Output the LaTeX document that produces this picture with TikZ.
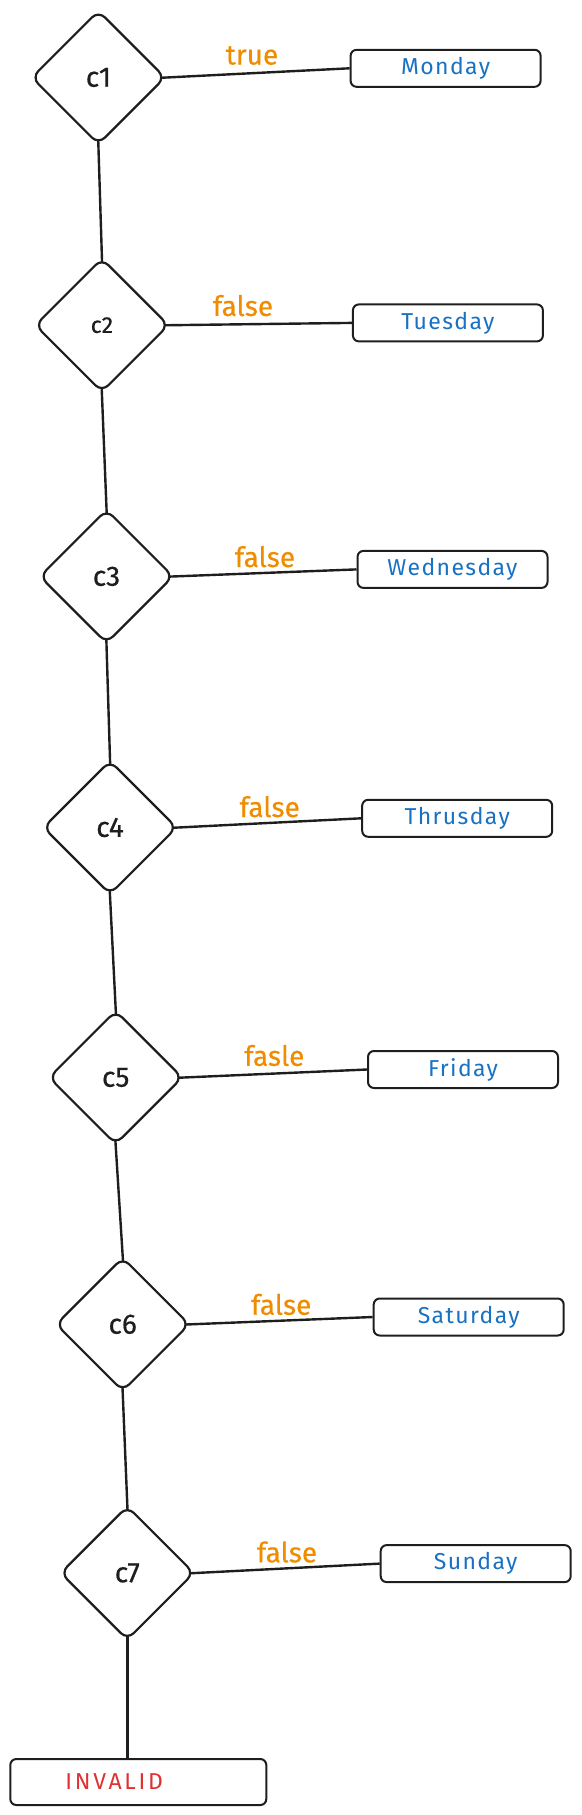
\documentclass[tikz,border=0pt]{standalone}
\usepackage{fontspec}
\setmainfont{Fira Sans}
\usetikzlibrary{shapes.geometric}
\definecolor{xorange}{HTML}{F08C00}
\definecolor{xblue}{HTML}{1971C2}
\definecolor{xred}{HTML}{E03131}
\definecolor{xink}{HTML}{1E1E1E}
\tikzset{
  cond/.style={diamond, draw=xink, line width=2.2pt, rounded corners=9pt,
    minimum width=134pt, minimum height=134pt, inner sep=0pt, font=\fontsize{28}{30}\selectfont\addfontfeature{FakeBold=0.6}, text=xink},
  daybox/.style={rectangle, draw=xink, line width=2pt, rounded corners=6pt,
    minimum width=190pt, minimum height=37pt, inner sep=0pt, font=\fontsize{23}{25}\selectfont\addfontfeature{LetterSpace=6}, text=xblue},
  lbl/.style={font=\fontsize{28}{30}\selectfont\addfontfeature{FakeBold=0.4}, text=xorange, inner sep=0pt},
  conn/.style={draw=xink, line width=2.4pt},
  fromdia/.style={shorten <=-5pt},
  bothdia/.style={shorten <=-5pt, shorten >=-5pt},
}
\begin{document}
\begin{tikzpicture}[x=1pt,y=-1pt]
\useasboundingbox (0,0) rectangle (581,1815);
\node[cond] (c1) at (98.4,77.5) {c1};
\node[cond] (c2) at (101.9,325.2) {\fontsize{23}{25}\selectfont c2};
\node[cond] (c3) at (106.5,576.4) {c3};
\node[cond] (c4) at (110,827.5) {c4};
\node[cond] (c5) at (115.7,1077.5) {c5};
\node[cond] (c6) at (122.7,1324.3) {c6};
\node[cond] (c7) at (127.3,1573) {c7};

\node[daybox] (d1) at (445.6,68.3) {Monday};
\node[daybox] (d2) at (447.9,322.9) {Tuesday};
\node[daybox] (d3) at (452.5,569.4) {Wednesday};
\node[daybox] (d4) at (457.2,818.3) {Thrusday};
\node[daybox] (d5) at (463,1069.5) {Friday};
\node[daybox] (d6) at (468.7,1317) {Saturday};
\node[daybox] (d7) at (475.7,1563.6) {Sunday};
\node[daybox, minimum width=256pt, minimum height=46pt, text=xred, text width=236pt, align=left, font=\fontsize{23}{25}\selectfont\addfontfeature{LetterSpace=12}] (inv) at (138.3,1782) {\hspace*{45pt}INVALID};

\node[lbl] (l1) at (252,55.5) {true};
\node[lbl] (l2) at (243,305.6) {false};
\node[lbl] (l3) at (265,556.7) {false};
\node[lbl] (l4) at (269.7,806.7) {false};
\node[lbl] (l5) at (274.3,1055.5) {fasle};
\node[lbl] (l6) at (281.2,1304.4) {false};
\node[lbl] (l7) at (287,1552) {false};

\foreach \i in {1,...,7} {
  \draw[conn, fromdia] (c\i.east) -- (d\i.west);
}
\draw[conn, bothdia] (c1.south) -- (c2.north);
\draw[conn, bothdia] (c2.south) -- (c3.north);
\draw[conn, bothdia] (c3.south) -- (c4.north);
\draw[conn, bothdia] (c4.south) -- (c5.north);
\draw[conn, bothdia] (c5.south) -- (c6.north);
\draw[conn, bothdia] (c6.south) -- (c7.north);
\draw[conn, fromdia] (c7.south) -- (c7.south |- inv.north);
\end{tikzpicture}
\end{document}
